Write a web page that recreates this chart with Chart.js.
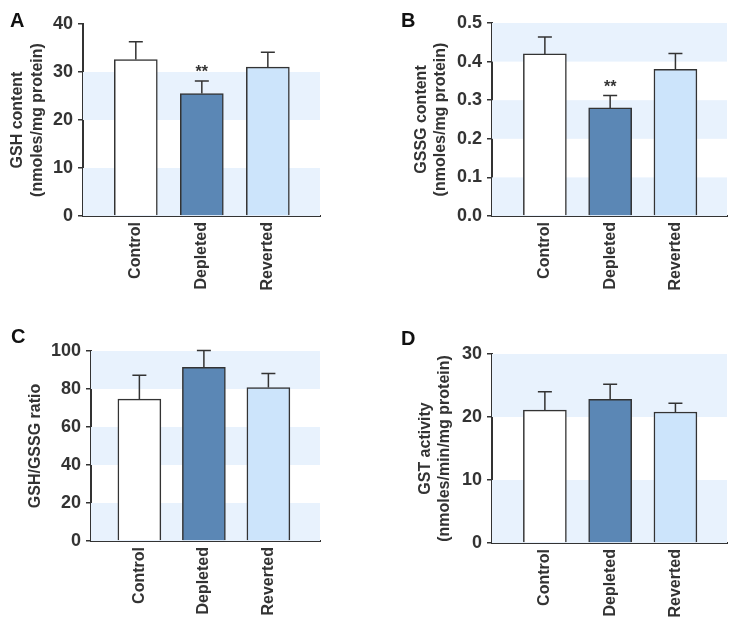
<!DOCTYPE html>
<html>
<head>
<meta charset="utf-8">
<title>Glutathione panels</title>
<script src="https://cdn.jsdelivr.net/npm/chart.js@4.4.1/dist/chart.umd.min.js"></script>
<style>
  html, body { margin: 0; padding: 0; background: #fff; }
  #wrap { position: relative; width: 740px; height: 637px; overflow: hidden; }
  #wrap canvas { position: absolute; }
  .letter {
    position: absolute;
    font: bold 20px 'Liberation Sans', Arial, sans-serif;
    line-height: 20px;
    color: #111;
  }
</style>
</head>
<body>
<div id="wrap">
  <canvas id="chartA" width="370" height="320" style="left:0;top:0"></canvas>
  <canvas id="chartB" width="370" height="320" style="left:370px;top:0"></canvas>
  <canvas id="chartC" width="370" height="317" style="left:0;top:320px"></canvas>
  <canvas id="chartD" width="370" height="317" style="left:370px;top:320px"></canvas>
  <div class="letter" style="left:10px;top:10px">A</div>
  <div class="letter" style="left:401px;top:10px">B</div>
  <div class="letter" style="left:11px;top:326px">C</div>
  <div class="letter" style="left:401px;top:328px">D</div>
</div>
<script>
// data
const categories = ['Control', 'Depleted', 'Reverted'];

const gshValues = [32.6, 25.5, 31.0];
const gshErrors = [3.7, 2.6, 3.1];
const gshMarks = ['', '**', ''];

const gssgValues = [0.42, 0.28, 0.38];
const gssgErrors = [0.044, 0.032, 0.041];
const gssgMarks = ['', '**', ''];

const ratioValues = [74.7, 91.4, 80.8];
const ratioErrors = [12.6, 8.8, 7.3];
const ratioMarks = ['', '', ''];

const gstValues = [21.1, 22.8, 20.8];
const gstErrors = [2.9, 2.4, 1.4];
const gstMarks = ['', '', ''];

const barColors = ['#ffffff', '#5b87b5', '#cce4fb'];
const bandColor = '#e8f2fd';
const inkColor = '#333333';
const fontFamily = "'Liberation Sans', Arial, sans-serif";

// shaded bands between every other pair of y ticks, starting at 0
const bandsPlugin = {
  id: 'bands',
  beforeDatasetsDraw(chart) {
    const {ctx, chartArea, scales: {y}} = chart;
    const ticks = y.ticks;
    ctx.save();
    ctx.fillStyle = bandColor;
    for (let i = 0; i + 1 < ticks.length; i += 2) {
      const y0 = y.getPixelForValue(ticks[i].value);
      const y1 = y.getPixelForValue(ticks[i + 1].value);
      ctx.fillRect(chartArea.left, y1, chartArea.right - chartArea.left, y0 - y1);
    }
    ctx.restore();
  }
};

// upper error bars and significance stars
const errorPlugin = {
  id: 'errors',
  afterDatasetsDraw(chart, args, opts) {
    const {ctx, scales: {y}} = chart;
    const meta = chart.getDatasetMeta(0);
    ctx.save();
    ctx.strokeStyle = inkColor;
    ctx.lineWidth = 1.5;
    meta.data.forEach(function(bar, i) {
      const top = y.getPixelForValue(opts.values[i] + opts.errors[i]);
      ctx.beginPath();
      ctx.moveTo(bar.x, bar.y);
      ctx.lineTo(bar.x, top);
      ctx.moveTo(bar.x - 7, top);
      ctx.lineTo(bar.x + 7, top);
      ctx.stroke();
      if (opts.marks[i]) {
        ctx.fillStyle = inkColor;
        ctx.font = 'bold 16px ' + fontFamily;
        ctx.textAlign = 'center';
        ctx.textBaseline = 'alphabetic';
        ctx.fillText(opts.marks[i], bar.x, top - 4);
      }
    });
    ctx.restore();
  }
};

function makePanel(id, p) {
  const canvas = document.getElementById(id);
  const W = canvas.width, H = canvas.height;
  return new Chart(canvas, {
    type: 'bar',
    data: {
      datasets: [{
        data: p.values.map((v, i) => ({x: i, y: v})),
        backgroundColor: barColors,
        borderColor: inkColor,
        borderWidth: 1.5,
        borderSkipped: 'bottom',
        barThickness: 43
      }]
    },
    options: {
      responsive: false,
      animation: false,
      events: [],
      layout: { padding: { left: 0, top: p.top, right: W - p.right, bottom: 0 } },
      plugins: {
        legend: { display: false },
        tooltip: { enabled: false },
        errors: { values: p.values, errors: p.errors, marks: p.marks }
      },
      scales: {
        x: {
          type: 'linear',
          min: p.xMin,
          max: p.xMax,
          offset: false,
          z: 1,
          afterFit: s => { s.height = H - p.bottom; },
          afterBuildTicks: s => { s.ticks = categories.map((c, i) => ({value: i})); },
          grid: { display: true, drawOnChartArea: false, drawTicks: false, offset: false },
          border: { display: true, color: inkColor, width: 2 },
          ticks: {
            autoSkip: false,
            minRotation: 90,
            maxRotation: 90,
            padding: 6,
            color: inkColor,
            font: { family: fontFamily, size: 16, weight: 'bold' },
            callback: v => categories[v]
          }
        },
        y: {
          min: 0,
          max: p.max,
          z: 1,
          afterFit: s => { s.width = p.left; },
          grid: { drawOnChartArea: false, drawTicks: true, tickLength: 5, color: inkColor, lineWidth: 1.5 },
          border: { display: true, color: inkColor, width: 2 },
          ticks: {
            stepSize: p.step,
            padding: 5,
            color: inkColor,
            font: { family: fontFamily, size: 18, weight: 'bold' },
            callback: v => p.decimals ? v.toFixed(p.decimals) : v
          },
          title: {
            display: true,
            text: p.title,
            color: inkColor,
            padding: { top: p.titlePad, bottom: 0 },
            font: { family: fontFamily, size: 16, weight: 'bold', lineHeight: 1.2 }
          }
        }
      }
    },
    plugins: [bandsPlugin, errorPlugin]
  });
}

makePanel('chartA', {
  values: gshValues, errors: gshErrors, marks: gshMarks,
  max: 40, step: 10, decimals: 0,
  title: ['GSH content', '(nmoles/mg protein)'],
  left: 83, top: 24, bottom: 216, right: 320, xMin: -0.8, xMax: 2.79, titlePad: 8.4
});

makePanel('chartB', {
  values: gssgValues, errors: gssgErrors, marks: gssgMarks,
  max: 0.5, step: 0.1, decimals: 1,
  title: ['GSSG content', '(nmoles/mg protein)'],
  left: 122, top: 23, bottom: 216, right: 357, xMin: -0.81, xMax: 2.79, titlePad: 42
});

makePanel('chartC', {
  values: ratioValues, errors: ratioErrors, marks: ratioMarks,
  max: 100, step: 20, decimals: 0,
  title: 'GSH/GSSG ratio',
  left: 91, top: 31, bottom: 221, right: 320, xMin: -0.75, xMax: 2.8, titlePad: 25.5
});

makePanel('chartD', {
  values: gstValues, errors: gstErrors, marks: gstMarks,
  max: 30, step: 10, decimals: 0,
  title: ['GST activity', '(nmoles/min/mg protein)'],
  left: 122, top: 34, bottom: 223, right: 357, xMin: -0.81, xMax: 2.79, titlePad: 46
});
</script>
</body>
</html>
